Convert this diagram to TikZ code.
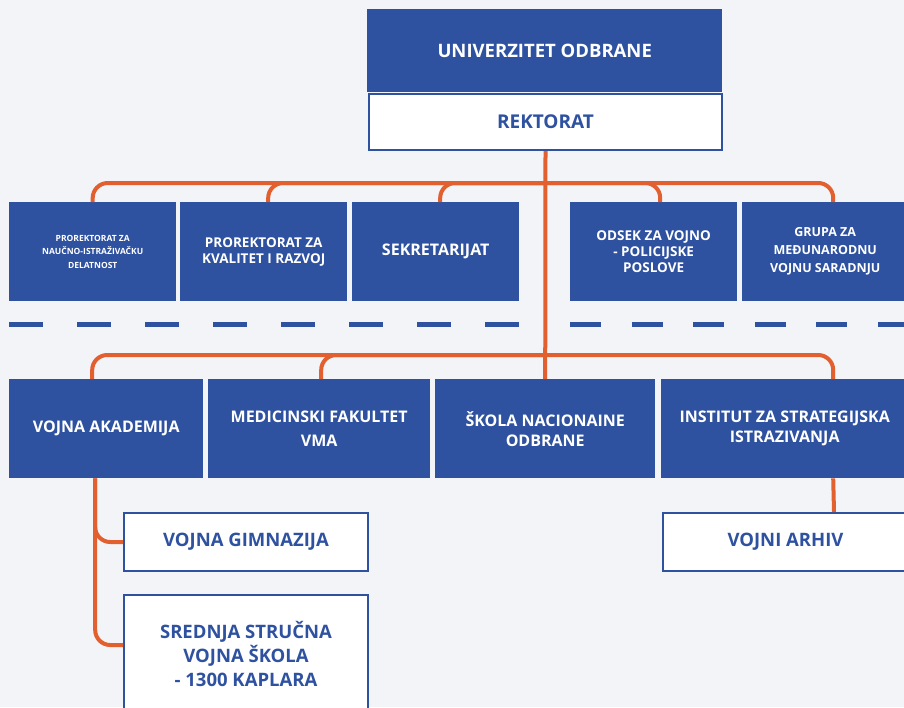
\documentclass[tikz,border=0pt]{standalone}
\usepackage{fontspec}
\setmainfont{Open Sans}
\usepackage{tikz}
\usetikzlibrary{positioning}
\usepackage{xcolor}
\definecolor{uoblue}{RGB}{46,81,160}
\definecolor{uoorange}{RGB}{226,96,48}
\definecolor{uopaper}{RGB}{243,244,248}
\newcommand{\setsz}[2]{\fontsize{#1}{#2}\selectfont\bfseries}
\tikzstyle{bluebox} = [fill=uoblue, text=white, align=center, inner sep=0pt, anchor=north west]
\tikzstyle{whitebox} = [fill=white, draw=uoblue, line width=2pt, text=uoblue, align=center, inner sep=0pt, anchor=north west]
\tikzstyle{link} = [line width=4pt, color=uoorange, rounded corners=15pt]
\tikzstyle{sepline} = [line width=5pt, color=uoblue]
\tikzset{dims/.style 2 args={minimum width=#1, minimum height=#2}}

\begin{document}
\begin{tikzpicture}[x=1pt, y=-1pt]
\useasboundingbox (0,0) rectangle (904,707);
\clip (0,0) rectangle (904,707);
\fill[uopaper] (0,0) rectangle (904,707);

% Top
\node[bluebox, dims={355pt}{83pt}, font=\setsz{18.5}{22}] (univ) at (367,9) {UNIVERZITET ODBRANE};
\node[whitebox, dims={353pt}{56pt}, font=\setsz{19}{22}] (rekt) at (368,93) {REKTORAT};

% Staff row
\node[bluebox, dims={167pt}{99pt}, font=\setsz{8.5}{13.5}] (pronid) at (9,202) {PROREKTORAT ZA\\NAUČNO-ISTRAŽIVAČKU\\DELATNOST};
\node[bluebox, dims={167pt}{99pt}, font=\setsz{13.5}{16}] (prokr) at (180,202) {PROREKTORAT ZA\\KVALITET I RAZVOJ};
\node[bluebox, dims={167pt}{99pt}, font=\setsz{16}{18}] (sekr) at (352,202) {SEKRETARIJAT};
\node[bluebox, dims={167pt}{99pt}, font=\setsz{13.5}{16}] (odsek) at (570,202) {ODSEK ZA VOJNO\\- POLICIJSKE\\POSLOVE};
\node[bluebox, dims={166pt}{99pt}, font=\setsz{12.5}{18}] (grupa) at (742,202) {GRUPA ZA\\MEĐUNARODNU\\VOJNU SARADNJU};

% Separator
\draw[sepline, dash pattern=on 34pt off 34pt] (9,324) -- (519,324);
\draw[sepline, dash pattern=on 31pt off 30.6pt] (570,324) -- (904,324);

% Units row
\node[bluebox, dims={194pt}{99pt}, font=\setsz{16}{24}] (va) at (9,379) {VOJNA AKADEMIJA};
\node[bluebox, dims={222pt}{99pt}, font=\setsz{16}{24}] (med) at (208,379) {MEDICINSKI FAKULTET\\VMA};
\node[bluebox, dims={220pt}{99pt}, font=\setsz{16}{20}] (sno) at (435,379) {ŠKOLA NACIONAINE\\ODBRANE};
\node[bluebox, dims={247pt}{99pt}, font=\setsz{16}{20}] (isi) at (661,379) {INSTITUT ZA STRATEGIJSKA\\ISTRAZIVANJA};

% Sub units
\node[whitebox, dims={244pt}{58pt}, font=\setsz{18.5}{22}] (gimn) at (123,512) {VOJNA GIMNAZIJA};
\node[whitebox, dims={244pt}{118pt}, font=\setsz{18.5}{24}] (sred) at (123,594) {SREDNJA STRUČNA\\VOJNA ŠKOLA\\- 1300 KAPLARA};
\node[whitebox, dims={245pt}{58pt}, font=\setsz{18.5}{22}] (arhiv) at (662,512) {VOJNI ARHIV};

% Links
\coordinate (hub1) at (545,183);
\coordinate (hub2) at (545,355);
\draw[link] (rekt.south) -- (sno.north);
\draw[link] (hub1) -| (pronid.north);
\draw[link] (hub1) -| ([xshift=4.5pt]prokr.north);
\draw[link] (hub1) -| ([xshift=4.5pt]sekr.north);
\draw[link] (hub1) -| ([xshift=6.5pt]odsek.north);
\draw[link] (hub1) -| ([xshift=8pt]grupa.north);
\draw[link] (hub2) -| ([xshift=-14pt]va.north);
\draw[link] (hub2) -| ([xshift=2pt]med.north);
\draw[link] (hub2) -| ([xshift=48.5pt]isi.north);
\draw[link] ([xshift=48.5pt]isi.south) -- ([xshift=48.5pt]arhiv.north);
\draw[link] ([xshift=-11pt]va.south) |- (gimn.west);
\draw[link] ([xshift=-11pt]va.south) |- ([yshift=9pt]sred.west);
\end{tikzpicture}
\end{document}
